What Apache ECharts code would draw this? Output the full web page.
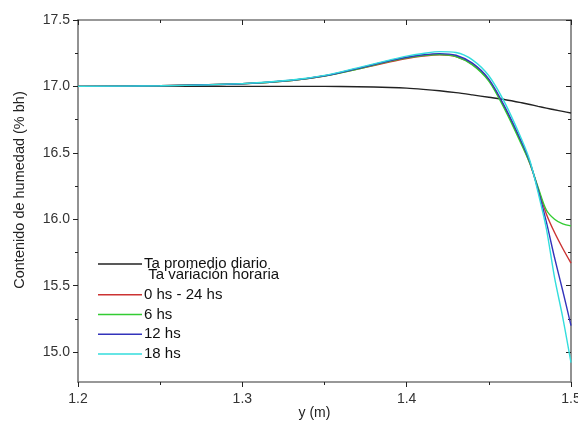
<!DOCTYPE html>
<html><head><meta charset="utf-8">
<script src="https://cdn.jsdelivr.net/npm/echarts@6/dist/echarts.min.js"></script>
<style>html,body{margin:0;padding:0;background:#fff}#c{width:578px;height:421px}</style>
</head><body><div id="c"></div>
<script>
const xs = [1.20,1.25,1.30,1.33,1.35,1.37,1.39,1.40,1.41,1.42,1.43,1.44,1.45,1.46,1.47,1.475,1.48,1.485,1.49,1.495,1.50];
const promedio = [17.0,17.0,17.0,17.0,17.0,16.998,16.992,16.987,16.978,16.967,16.953,16.936,16.918,16.9,16.877,16.864,16.85,16.837,16.824,16.812,16.80];
const h0_24 = [17.0,17.005,17.02,17.045,17.078,17.13,17.185,17.21,17.228,17.238,17.225,17.165,17.045,16.83,16.57,16.42,16.23,16.04,15.9,15.78,15.67];
const h6 = [17.0,17.005,17.02,17.045,17.078,17.13,17.19,17.215,17.232,17.24,17.225,17.162,17.04,16.82,16.56,16.42,16.24,16.07,16.0,15.965,15.95];
const h12 = [17.0,17.005,17.02,17.046,17.08,17.135,17.195,17.22,17.238,17.247,17.235,17.175,17.055,16.84,16.58,16.43,16.22,15.98,15.71,15.46,15.2];
const h18 = [17.0,17.005,17.021,17.048,17.083,17.14,17.2,17.228,17.248,17.262,17.255,17.2,17.08,16.87,16.6,16.44,16.2,15.93,15.56,15.26,14.92];
const xMajor = [1.2,1.3,1.4,1.5];
const xMinor = [1.25,1.35,1.45];
const yMajor = [15.0,15.5,16.0,16.5,17.0,17.5];
const yMinor = [15.25,15.75,16.25,16.75,17.25];
const legendNames = ['Ta promedio diario',' Ta variación horaria','0 hs - 24 hs','6 hs','12 hs','18 hs'];

const pair = arr => xs.map((x,i)=>[x,arr[i]]);
const font = 'Liberation Sans, Arial, sans-serif';
const tickColor = '#222';
const chart = echarts.init(document.getElementById('c'));
const xBase = {type:'value',min:1.2,max:1.5,splitLine:{show:false},axisLine:{show:false},axisLabel:{show:false}};
const yBase = {type:'value',min:14.775,max:17.5,splitLine:{show:false},axisLine:{show:false},axisLabel:{show:false}};
const tick = (vals,len,inside)=>({show:true,inside,length:len,customValues:vals,lineStyle:{color:tickColor,width:1}});
const frame = {show:true,onZero:false,lineStyle:{color:'#777',width:1.6}};
const ser = (name,data,color)=>({type:'line',name,data:pair(data),smooth:0.3,symbol:'none',showSymbol:false,lineStyle:{color,width:1.4},itemStyle:{color},xAxisIndex:0,yAxisIndex:0,z:3});
const legendText = {fontSize:15,color:'#111',fontFamily:font,padding:[0,0,0,-3]};
chart.setOption({
  animation:false,
  backgroundColor:'#fff',
  textStyle:{fontFamily:font},
  grid:{left:78,right:7,top:20,bottom:39,containLabel:false,outerBoundsMode:'none'},
  xAxis:[
    {...xBase,position:'bottom',axisLine:frame,name:'y (m)',nameLocation:'middle',nameGap:24,nameMoveOverlap:false,
     nameTextStyle:{fontSize:14,color:'#222',fontFamily:font,padding:[0,20,0,0]},
     axisTick:tick(xMajor,5,false),
     axisLabel:{show:true,fontSize:14,color:'#333',margin:10,fontFamily:font,customValues:xMajor,formatter:v=>v.toFixed(1)}},
    {...xBase,position:'bottom',axisTick:tick(xMinor,3,false)},
    {...xBase,position:'top',axisLine:frame,axisTick:tick(xMajor,5,true)},
    {...xBase,position:'top',axisTick:tick(xMinor,3,true)}
  ],
  yAxis:[
    {...yBase,position:'left',axisLine:frame,name:'Contenido de humedad (% bh)',nameLocation:'middle',nameGap:51,
     nameTextStyle:{fontSize:14.5,color:'#222',fontFamily:font,padding:[0,0,0,22]},
     axisTick:tick(yMajor,5,false),
     axisLabel:{show:true,fontSize:14,color:'#333',margin:8,fontFamily:font,customValues:yMajor,formatter:v=>v.toFixed(1)}},
    {...yBase,position:'left',axisTick:tick(yMinor,3,false)},
    {...yBase,position:'right',axisLine:frame,axisTick:tick(yMajor,5,true)},
    {...yBase,position:'right',axisTick:tick(yMinor,3,true)}
  ],
  legend:[
    {orient:'vertical',left:98,top:256.5,padding:0,itemWidth:44,itemHeight:1.5,icon:'rect',textStyle:legendText,
     data:[{name:legendNames[0]}]},
    {orient:'vertical',left:98,top:267.5,padding:0,itemWidth:44,itemHeight:1.5,itemGap:4.75,icon:'rect',textStyle:legendText,
     data:legendNames.slice(1).map(n=>({name:n}))}
  ],
  series:[
    ser(legendNames[0],promedio,'#222222'),
    {type:'line',name:legendNames[1],data:[],symbol:'none',lineStyle:{color:'rgba(0,0,0,0)'},itemStyle:{color:'rgba(0,0,0,0)'}},
    ser(legendNames[2],h0_24,'#cc3333'),
    ser(legendNames[3],h6,'#33cc33'),
    ser(legendNames[4],h12,'#3333bb'),
    ser(legendNames[5],h18,'#33dddd')
  ]
});
</script></body></html>
